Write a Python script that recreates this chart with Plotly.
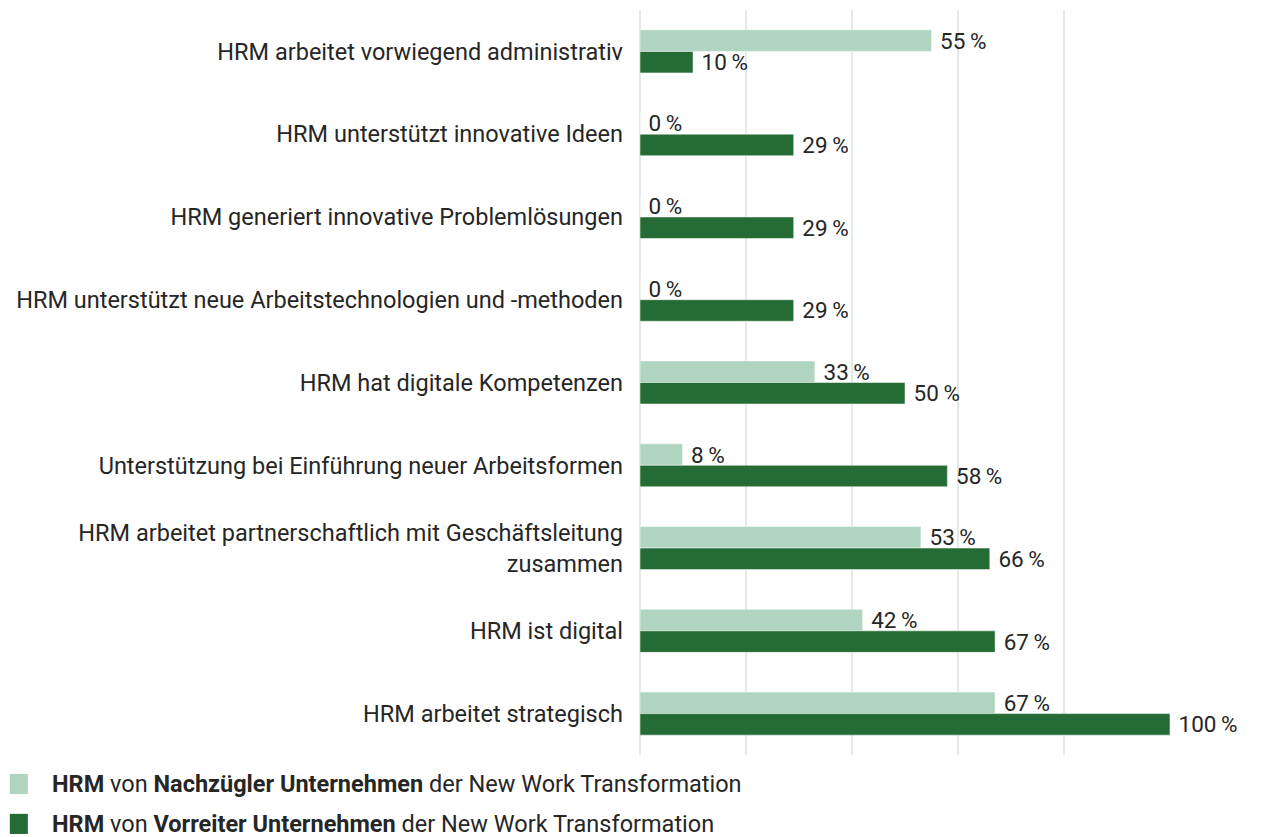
import plotly.graph_objects as go

categories = [
    "HRM arbeitet vorwiegend administrativ",
    "HRM unterstützt innovative Ideen",
    "HRM generiert innovative Problemlösungen",
    "HRM unterstützt neue Arbeitstechnologien und -methoden",
    "HRM hat digitale Kompetenzen",
    "Unterstützung bei Einführung neuer Arbeitsformen",
    "HRM arbeitet partnerschaftlich mit Geschäftsleitung<br>zusammen",
    "HRM ist digital",
    "HRM arbeitet strategisch",
]
nachzuegler = [55, 0, 0, 0, 33, 8, 53, 42, 67]
vorreiter = [10, 29, 29, 29, 50, 58, 66, 67, 100]
series_names = [
    "<b>HRM</b> von <b>Nachzügler Unternehmen</b> der New Work Transformation",
    "<b>HRM</b> von <b>Vorreiter Unternehmen</b> der New Work Transformation",
]
colors = ["#afd4c0", "#246b35"]
x_ticks = [0, 20, 40, 60, 80, 100]

FONT = "Roboto, Arial, sans-serif"
FS = 23.5
TEXT_COLOR = "#262626"

fig = go.Figure()
for vals, name, col in zip([nachzuegler, vorreiter], series_names, colors):
    fig.add_trace(go.Bar(
        y=categories, x=vals, orientation="h", name=name,
        marker=dict(color=col, line=dict(color="rgba(255,255,255,0.5)", width=1)),
        text=[f" {v}\u2009%" for v in vals],
        textposition="outside", cliponaxis=False, constraintext="none",
        textfont=dict(family=FONT, size=FS - 1, color=TEXT_COLOR),
        showlegend=False,
    ))

# manual legend
legend_y = [-0.039, -0.0925]
for name, col, ly in zip(series_names, colors, legend_y):
    fig.add_shape(type="rect", xref="paper", yref="paper",
                  x0=-1.189, x1=-1.155, y0=ly - 0.0135, y1=ly + 0.0135,
                  fillcolor=col, line=dict(width=0))
    fig.add_annotation(xref="paper", yref="paper", x=-1.114, y=ly,
                       text=name, showarrow=False, xanchor="left", yanchor="middle",
                       font=dict(family=FONT, size=FS, color=TEXT_COLOR))

fig.update_layout(
    width=1255, height=829,
    margin=dict(l=632, r=93, t=2, b=82),
    barmode="group", bargap=0.48, bargroupgap=0,
    plot_bgcolor="white", paper_bgcolor="white",
    font=dict(family=FONT, size=FS, color=TEXT_COLOR),
    xaxis=dict(range=[0, 100], tickvals=x_ticks, showticklabels=False,
               showgrid=True, gridcolor="#e3eaea", gridwidth=2,
               zeroline=True, zerolinecolor="#e3eaea", zerolinewidth=2,
               showline=False, fixedrange=True),
    yaxis=dict(autorange="reversed", showgrid=False, zeroline=False,
               ticks="", ticklabelstandoff=16,
               tickfont=dict(family=FONT, size=FS, color=TEXT_COLOR)),
)

fig.write_html("out.html")
